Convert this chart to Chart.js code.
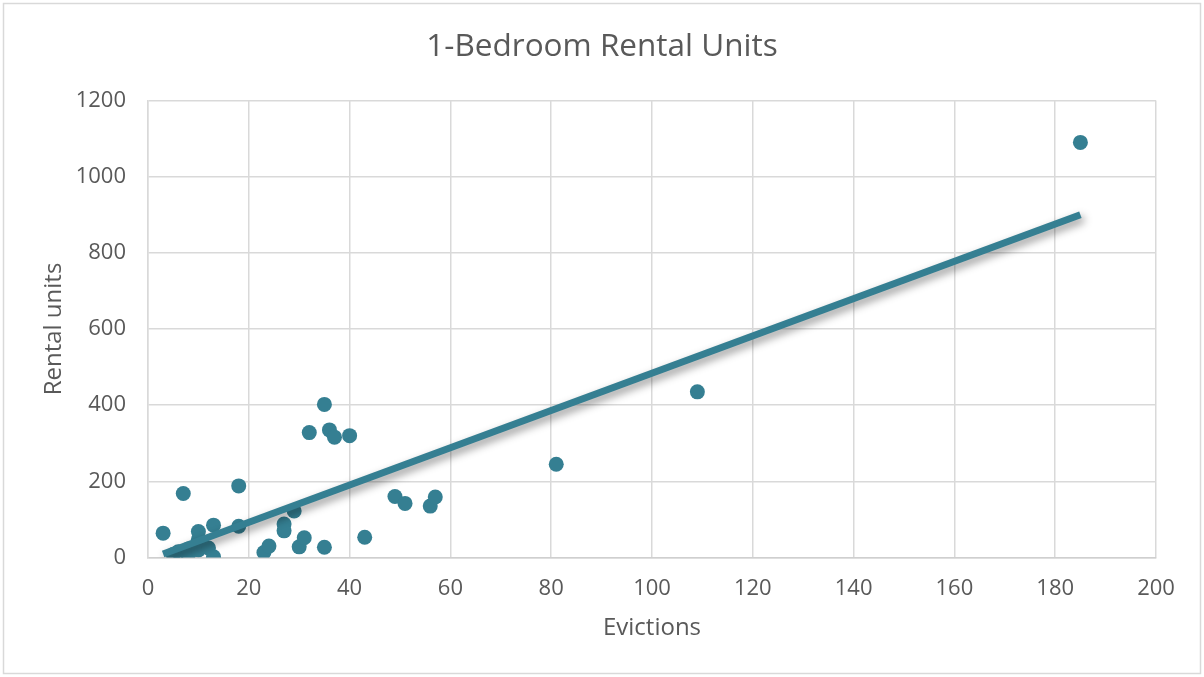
<!DOCTYPE html>
<html>
<head>
<meta charset="utf-8">
<title>1-Bedroom Rental Units</title>
<script src="https://cdn.jsdelivr.net/npm/chart.js@4/dist/chart.umd.min.js"></script>
<style>
  html, body { margin: 0; padding: 0; background: #ffffff; }
  #wrap { width: 1204px; height: 677px; position: relative; }
</style>
</head>
<body>
<div id="wrap"><canvas id="chart" width="1204" height="677"></canvas></div>
<script>
// Evictions (x) against 1-bedroom rental units (y), one entry per area
const evictions = [3, 5, 6, 7, 8, 8, 10, 10, 10, 11, 12, 13, 13, 18, 18, 23, 24, 27, 27, 29, 30, 31, 32, 35, 35, 36, 37, 40, 43, 49, 51, 56, 57, 81, 109, 185];
const rentalUnits = [64, 8, 15, 168, 7, 22, 68, 48, 20, 30, 25, 85, 2, 188, 82, 13, 30, 88, 70, 122, 28, 52, 328, 402, 27, 335, 316, 320, 53, 160, 142, 135, 159, 245, 435, 1090];

// Linear trend line, drawn across the range of the data
const trendX = [3, 185];
const trendY = [9, 900];

const xTicks = [0, 20, 40, 60, 80, 100, 120, 140, 160, 180, 200];
const yTicks = [0, 200, 400, 600, 800, 1000, 1200];

const seriesColor = '#357F92';
const textColor = '#595959';
const gridColor = '#d9d9d9';
const fontFamily = '"Open Sans", "Liberation Sans", sans-serif';

const points = evictions.map((x, i) => ({ x: x, y: rentalUnits[i] }));
const trend = trendX.map((x, i) => ({ x: x, y: trendY[i] }));

// White background plus the thin frame around the whole chart
const framePlugin = {
  id: 'frame',
  beforeDraw(chart) {
    const ctx = chart.ctx;
    ctx.save();
    ctx.fillStyle = '#ffffff';
    ctx.fillRect(0, 0, chart.width, chart.height);
    ctx.strokeStyle = '#d9d9d9';
    ctx.lineWidth = 1.5;
    ctx.strokeRect(3.5, 3.5, chart.width - 7, chart.height - 7);
    ctx.restore();
  }
};

// Soft drop shadow under the trend line
const shadowPlugin = {
  id: 'trendShadow',
  beforeDatasetDraw(chart, args) {
    if (args.index !== 0) return;
    const ctx = chart.ctx;
    ctx.save();
    ctx.shadowColor = 'rgba(0,0,0,0.42)';
    ctx.shadowBlur = 8;
    ctx.shadowOffsetX = 3;
    ctx.shadowOffsetY = 4;
  },
  afterDatasetDraw(chart, args) {
    if (args.index !== 0) return;
    chart.ctx.restore();
  }
};

const plainNumber = v => String(v);

new Chart(document.getElementById('chart'), {
  type: 'scatter',
  data: {
    datasets: [
      {
        type: 'line',
        label: 'Linear trend',
        data: trend,
        borderColor: seriesColor,
        borderWidth: 7,
        borderCapStyle: 'butt',
        pointRadius: 0,
        fill: false,
        tension: 0,
        order: 0
      },
      {
        label: 'Rental units',
        data: points,
        backgroundColor: seriesColor,
        borderColor: seriesColor,
        borderWidth: 0,
        pointRadius: 7.5,
        pointHoverRadius: 7.5,
        order: 1
      }
    ]
  },
  options: {
    responsive: false,
    animation: false,
    devicePixelRatio: 1,
    layout: { padding: 0 },
    plugins: {
      legend: { display: false },
      tooltip: { enabled: false },
      title: {
        display: true,
        text: '1-Bedroom Rental Units',
        color: textColor,
        font: { family: fontFamily, size: 31.5, weight: 'normal', lineHeight: 1.2 },
        padding: { top: 28, bottom: 34.7 }
      }
    },
    scales: {
      x: {
        type: 'linear',
        min: 0,
        max: 200,
        afterBuildTicks(scale) { scale.ticks = xTicks.map(v => ({ value: v })); },
        afterFit(scale) { scale.height = 119.5; },
        grid: { color: gridColor, lineWidth: 1.5, drawTicks: false },
        border: { display: true, color: '#cfcfcf', width: 1.5 },
        ticks: {
          color: textColor,
          padding: 18,
          maxRotation: 0,
          callback: plainNumber,
          font: { family: fontFamily, size: 22 }
        },
        title: {
          display: true,
          text: 'Evictions',
          color: textColor,
          font: { family: fontFamily, size: 24 },
          padding: { top: 0, bottom: 34.6 }
        }
      },
      y: {
        type: 'linear',
        min: 0,
        max: 1200,
        afterBuildTicks(scale) { scale.ticks = yTicks.map(v => ({ value: v })); },
        afterFit(scale) { scale.width = 148; },
        grid: { color: gridColor, lineWidth: 1.5, drawTicks: false },
        border: { display: true, color: gridColor, width: 1.5 },
        ticks: {
          color: textColor,
          padding: 22,
          callback: plainNumber,
          font: { family: fontFamily, size: 22 }
        },
        title: {
          display: true,
          text: 'Rental units',
          color: textColor,
          font: { family: fontFamily, size: 24 },
          padding: { top: 40, bottom: 0 }
        }
      },
      // Empty right-hand margin between the plot and the frame
      margin: {
        type: 'linear',
        position: 'right',
        display: true,
        afterFit(scale) { scale.width = 48; },
        grid: { display: false, drawTicks: false },
        border: { display: false },
        ticks: { display: false }
      }
    }
  },
  plugins: [framePlugin, shadowPlugin]
});
</script>
</body>
</html>
